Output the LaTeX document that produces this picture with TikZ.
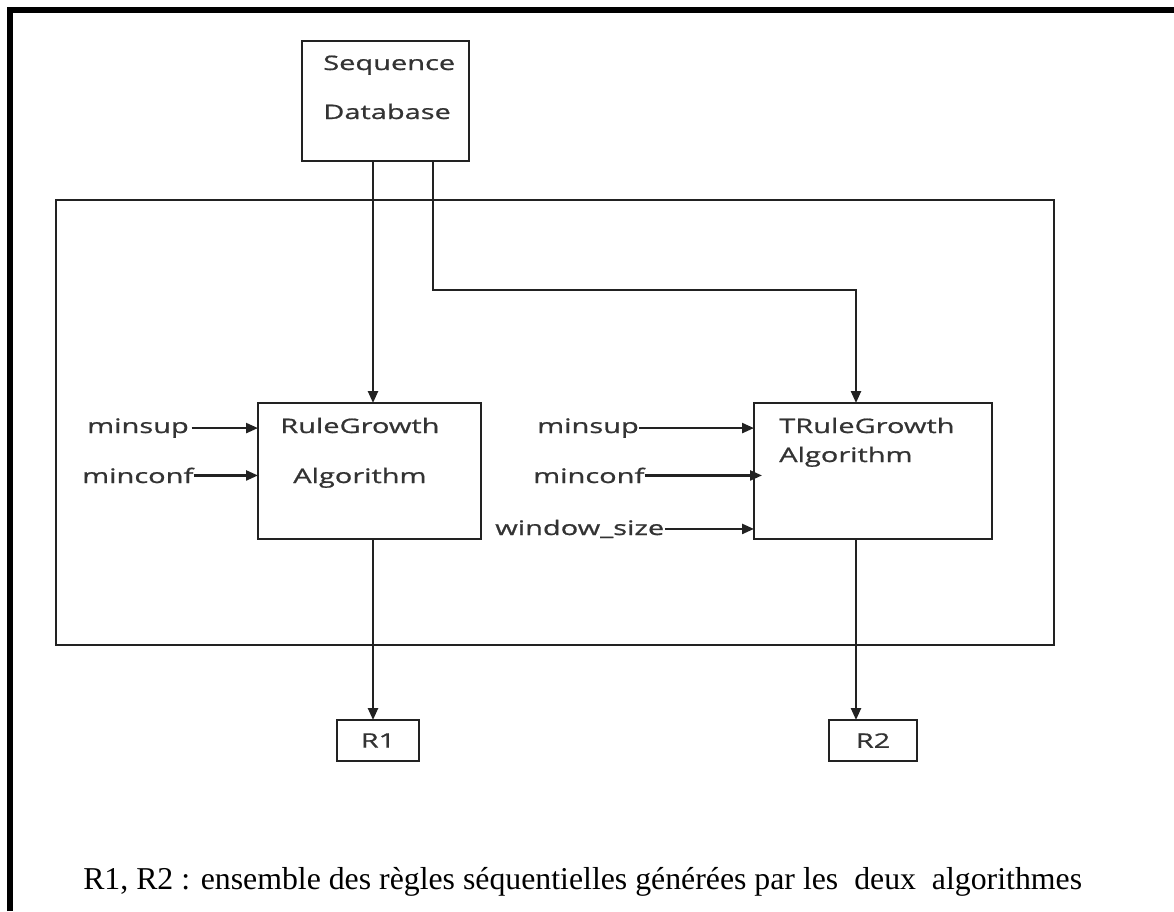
\documentclass[tikz,border=0pt]{standalone}
\usepackage{fontspec}
\setmainfont{Liberation Serif}
\newfontfamily\diagfont[FakeStretch=1.45,FakeBold=0.9]{Open Sans}
\usetikzlibrary{arrows.meta,calc}
\definecolor{ln}{HTML}{222222}
\definecolor{tx}{HTML}{333333}
\begin{document}
\begin{tikzpicture}[x=0.75pt,y=-0.75pt,
  box/.style={draw=ln,line width=1.8pt,inner sep=0pt,outer sep=0pt},
  lbl/.style={font=\diagfont\fontsize{15}{18}\selectfont,text=tx,inner sep=0pt},
  arr/.style={draw=ln,line width=1.8pt,-{Triangle[length=9pt,width=7.5pt]}},
  frame/.style={draw=black,line width=4.5pt}
]
\useasboundingbox (0,0) rectangle (1174,911);
\draw[frame] (10,911) -- (10,10) -- (1174,10);

% boxes
\node[box,minimum width=125.25pt,minimum height=90pt] (db) at (385.5,101) {};
\node[box,minimum width=748.5pt,minimum height=333.75pt] (big) at (555,422.5) {};
\node[box,minimum width=167.25pt,minimum height=102pt] (rg) at (369.5,471) {};
\node[box,minimum width=178.5pt,minimum height=102pt] (trg) at (873,471) {};
\node[box,minimum width=61.5pt,minimum height=30.75pt] (r1) at (378,740.5) {};
\node[box,minimum width=66pt,minimum height=30.75pt] (r2) at (873,740.5) {};

% box texts
\node[lbl,anchor=base west] (dbt1) at (323,70) {Sequence};
\node[lbl,anchor=base west] (dbt2) at (323,119) {Database};
\node[lbl,anchor=base west] (rgt1) at (280,433) {RuleGrowth};
\node[lbl,anchor=base west] (rgt2) at (293,483) {Algorithm};
\node[lbl,anchor=base west] (trgt1) at (779,433) {TRuleGrowth};
\node[lbl,anchor=base west] (trgt2) at (779,462) {Algorithm};
\node[lbl] (r1t) at (r1) {R1};
\node[lbl] (r2t) at (r2) {R2};

% input labels
\node[lbl,anchor=base west] (ms1) at (87,433) {minsup};
\node[lbl,anchor=base west] (mc1) at (82,483) {minconf};
\node[lbl,anchor=base west] (ms2) at (537,433) {minsup};
\node[lbl,anchor=base west] (mc2) at (533,483) {minconf};
\node[lbl,anchor=base west] (ws) at (495,535) {window\_size};

% input arrows
\draw[arr] ([xshift=2pt]ms1.east) -- (ms1.east -| rg.west);
\draw[arr] (mc1.east) -- (mc1.east -| rg.west);
\draw[arr] (ms2.east) -- (ms2.east -| trg.west);
\draw[arr] (mc2.east) -- ($(mc2.east -| trg.west)+(8,0)$);
\draw[arr] (ws.east) -- (ws.east -| trg.west);

% flow connectors
\coordinate (c1) at (373,0);
\coordinate (c2) at (433,290);
\coordinate (c3) at (856,290);
\draw[arr] (db.south -| c1) -- (rg.north -| c1);
\draw[arr] (db.south -| c2) -- (c2) -- (c3) -- (trg.north -| c3);
\draw[arr] (rg.south -| c1) -- (r1.north -| c1);
\draw[arr] (trg.south -| c3) -- (r2.north -| c3);

% caption
\node[font=\fontsize{23.85}{28}\selectfont,anchor=base west,inner sep=0pt] (cap) at (83,889)
  {R1, R2 : ensemble des règles séquentielles générées par les\ \ deux\ \ algorithmes};
\end{tikzpicture}
\end{document}
